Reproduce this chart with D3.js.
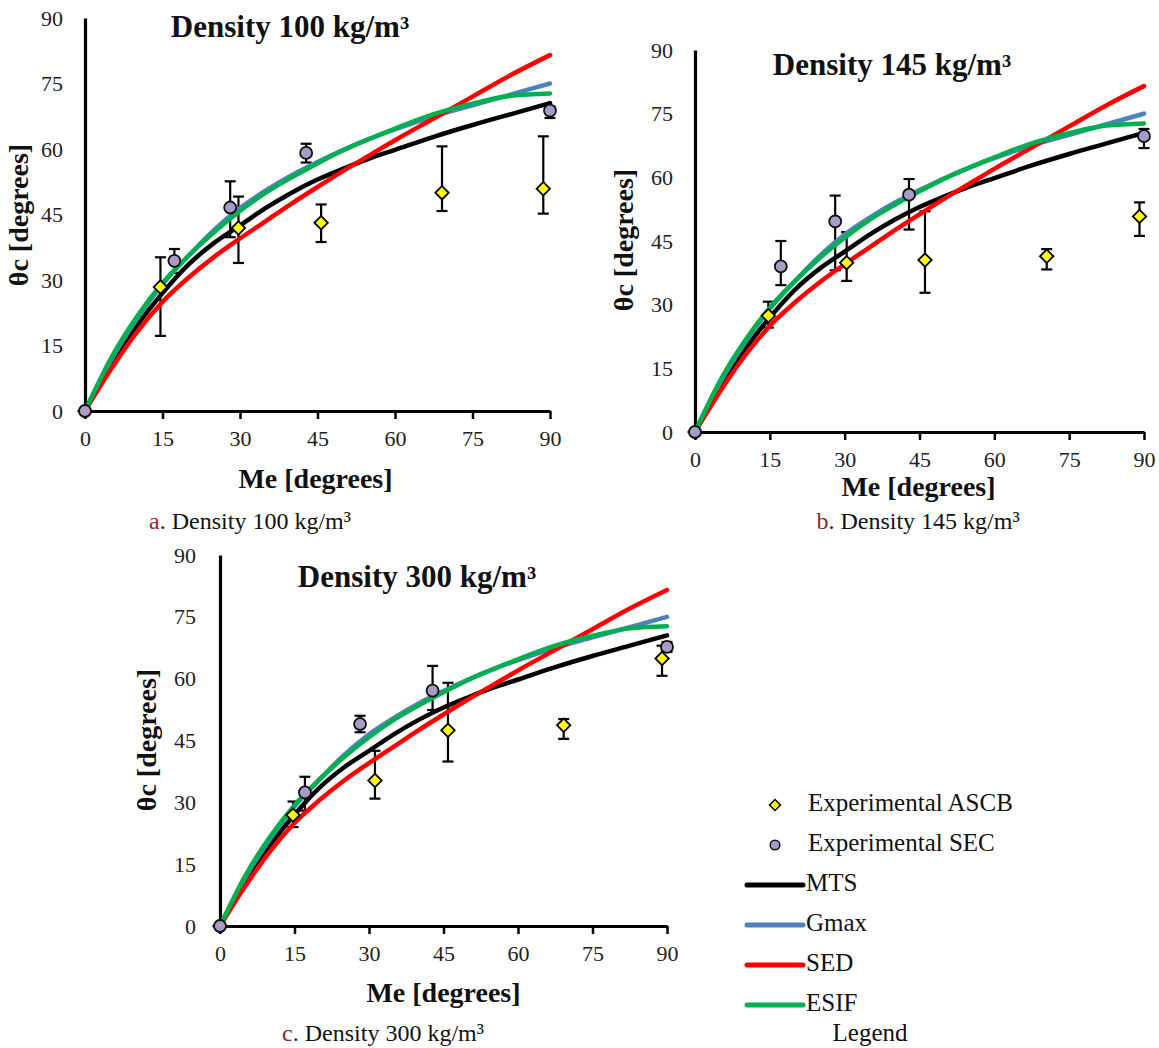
<!DOCTYPE html>
<html>
<head>
<meta charset="utf-8">
<script src="https://cdn.jsdelivr.net/npm/d3@7"></script>
<style>
  body { margin: 0; background: #fff; }
  svg { display: block; }
  text { font-family: "Liberation Serif", "DejaVu Serif", serif; fill: #111; }
</style>
</head>
<body>
<svg id="chart" width="1159" height="1048"></svg>
<script>
// ---- Shared axis ticks ----
const xTicks = [0, 15, 30, 45, 60, 75, 90];
const yTicks = [0, 15, 30, 45, 60, 75, 90];

// ---- Model predictions (θc vs Me), same for every density ----
const modelMe = [0, 5, 10, 15, 20, 25, 30, 35, 40, 45, 50, 55, 60, 67.5, 75, 82.5, 90];
const mtsTheta  = [0, 10.5, 19.5, 27.0, 33.5, 38.5, 42.5, 46.5, 50.0, 53.0, 55.5, 57.8, 59.8, 62.8, 65.5, 68.0, 70.5];
const gmaxTheta = [0, 11.5, 21.0, 29.0, 35.5, 41.5, 46.5, 50.5, 54.0, 57.0, 59.8, 62.3, 64.5, 67.5, 70.0, 72.5, 75.0];
const sedTheta  = [0, 9.5, 18.0, 25.0, 30.5, 35.3, 39.5, 43.5, 47.5, 51.3, 55.0, 58.5, 62.0, 67.0, 72.0, 77.0, 81.5];
const esifTheta = [0, 12.0, 21.5, 29.3, 35.5, 41.0, 45.8, 50.0, 53.5, 56.7, 59.7, 62.3, 64.7, 68.0, 70.4, 72.2, 72.7];

// ---- Experimental ASCB (diamonds) ----
const ascbMe100    = [0, 14.6, 29.7, 45.7, 69.1, 88.7];
const ascbTheta100 = [0, 28.4, 41.9, 43.1, 50.0, 50.9];
const ascbLow100   = [0, 17.2, 33.9, 38.7, 45.8, 45.2];
const ascbHigh100  = [0, 35.2, 49.1, 47.3, 60.6, 62.9];

const ascbMe145    = [0, 14.7, 30.4, 46.1, 70.5, 89.1];
const ascbTheta145 = [0, 27.4, 39.9, 40.5, 41.4, 50.8];
const ascbLow145   = [0, 24.6, 35.6, 32.8, 38.3, 46.2];
const ascbHigh145  = [0, 30.7, 47.1, 52.0, 43.1, 54.1];

const ascbMe300    = [0, 14.7, 31.2, 45.9, 69.2, 89.0];
const ascbTheta300 = [0, 26.9, 35.3, 47.5, 48.7, 64.9];
const ascbLow300   = [0, 24.0, 30.9, 39.9, 45.4, 60.7];
const ascbHigh300  = [0, 30.2, 42.5, 59.0, 50.2, 68.0];

// ---- Experimental SEC (circles) ----
const secMe100    = [0, 17.3, 28.1, 42.8, 90.0];
const secTheta100 = [0, 34.4, 46.6, 59.1, 68.8];
const secLow100   = [0, 31.6, 39.8, 56.9, 67.1];
const secHigh100  = [0, 37.1, 52.6, 61.2, 69.7];

const secMe145    = [0, 17.2, 28.1, 42.9, 90.0];
const secTheta145 = [0, 39.0, 49.6, 55.9, 69.7];
const secLow145   = [0, 34.6, 38.1, 47.7, 66.9];
const secHigh145  = [0, 45.0, 55.7, 59.6, 71.4];

const secMe300    = [0, 17.1, 28.2, 42.8, 90.0];
const secTheta300 = [0, 32.4, 49.0, 57.1, 67.7];
const secLow300   = [0, 28.0, 47.0, 52.4, 66.5];
const secHigh300  = [0, 36.2, 51.0, 63.1, 68.9];

// ---- Series labels and colours ----
const modelNames  = ["MTS", "Gmax", "SED", "ESIF"];
const modelColors = ["#000000", "#4f81bd", "#ff0000", "#00b050"];
const modelSeries = [mtsTheta, gmaxTheta, sedTheta, esifTheta];
const titles   = ["Density 100 kg/m³", "Density 145 kg/m³", "Density 300 kg/m³"];
const captionLetters = ["a", "b", "c"];

const SERIF = '"Liberation Serif", "DejaVu Serif", serif';
const svg = d3.select("#chart");

const zip = (xs, ys, lo, hi) => xs.map((x, i) => ({ x, y: ys[i], lo: lo ? lo[i] : null, hi: hi ? hi[i] : null }));

function drawPanel(opt) {
  const x = d3.scaleLinear().domain([0, 90]).range([opt.left, opt.right]);
  const y = d3.scaleLinear().domain([0, 90]).range([opt.bottom, opt.top]);
  const g = svg.append("g");

  // x axis
  const xa = g.append("g")
    .attr("transform", `translate(0,${opt.bottom})`)
    .call(d3.axisBottom(x).tickValues(xTicks).tickSize(8).tickSizeOuter(0).tickPadding(opt.xPad));
  xa.select(".domain").attr("stroke", "#000").attr("stroke-width", 3.2);
  xa.selectAll(".tick line").attr("stroke", "#000").attr("stroke-width", 2.5);
  xa.selectAll(".tick text").style("font-family", SERIF).style("font-size", "22px").style("fill", "#222");

  // y axis
  const ya = g.append("g")
    .attr("transform", `translate(${opt.left},0)`)
    .call(d3.axisLeft(y).tickValues(yTicks).tickSize(0).tickPadding(opt.yPad));
  ya.select(".domain").attr("stroke", "#000").attr("stroke-width", 3.2);
  ya.selectAll(".tick text").style("font-family", SERIF).style("font-size", "22px").style("fill", "#222");

  // error bars
  const bars = zip(opt.ascb[0], opt.ascb[1], opt.ascb[2], opt.ascb[3])
    .concat(zip(opt.sec[0], opt.sec[1], opt.sec[2], opt.sec[3]))
    .filter(d => d.hi !== d.lo);
  const eb = g.append("g").attr("stroke", "#000").attr("stroke-width", 2.2);
  bars.forEach(d => {
    eb.append("line").attr("x1", x(d.x)).attr("x2", x(d.x)).attr("y1", y(d.lo)).attr("y2", y(d.hi));
    eb.append("line").attr("x1", x(d.x) - 5.5).attr("x2", x(d.x) + 5.5).attr("y1", y(d.lo)).attr("y2", y(d.lo));
    eb.append("line").attr("x1", x(d.x) - 5.5).attr("x2", x(d.x) + 5.5).attr("y1", y(d.hi)).attr("y2", y(d.hi));
  });

  // model curves
  const line = d3.line().x(d => x(d.x)).y(d => y(d.y)).curve(d3.curveMonotoneX);
  modelSeries.forEach((s, i) => {
    g.append("path")
      .datum(zip(modelMe, s))
      .attr("d", line)
      .attr("fill", "none")
      .attr("stroke", modelColors[i])
      .attr("stroke-width", 4.5)
      .attr("stroke-linecap", "round")
      .attr("stroke-linejoin", "round");
  });

  // ASCB diamonds
  g.append("g").selectAll("path")
    .data(zip(opt.ascb[0], opt.ascb[1]))
    .join("path")
    .attr("transform", d => `translate(${x(d.x)},${y(d.y)}) rotate(45)`)
    .attr("d", d3.symbol(d3.symbolSquare, 90))
    .attr("fill", "#ffff00")
    .attr("stroke", "#000")
    .attr("stroke-width", 1.8);

  // SEC circles
  g.append("g").selectAll("circle")
    .data(zip(opt.sec[0], opt.sec[1]))
    .join("circle")
    .attr("cx", d => x(d.x))
    .attr("cy", d => y(d.y))
    .attr("r", 6)
    .attr("fill", "#a89bc6")
    .attr("stroke", "#111")
    .attr("stroke-width", 1.8);

  // titles
  g.append("text")
    .attr("x", opt.titleX).attr("y", opt.titleY)
    .attr("text-anchor", "middle").attr("dominant-baseline", "middle")
    .style("font-size", "31px").style("font-weight", "bold")
    .text(opt.title);

  g.append("text")
    .attr("x", (opt.left + opt.right) / 2 + opt.xLabelShift).attr("y", opt.xLabelY)
    .attr("text-anchor", "middle").attr("dominant-baseline", "middle")
    .style("font-size", "28px").style("font-weight", "bold")
    .text("Me [degrees]");

  g.append("text")
    .attr("transform", `translate(${opt.yLabelX},${opt.yLabelY}) rotate(-90)`)
    .attr("text-anchor", "middle").attr("dominant-baseline", "middle")
    .style("font-size", "28px").style("font-weight", "bold")
    .text("θc [degrees]");

  // caption
  const cap = g.append("text")
    .attr("x", opt.capX).attr("y", opt.capY)
    .attr("text-anchor", "middle").attr("dominant-baseline", "middle")
    .style("font-size", "24px");
  cap.append("tspan").style("fill", "#8b2b2b").text(opt.letter);
  cap.append("tspan").style("fill", "#111").text(". " + opt.title);
}

drawPanel({
  left: 85, right: 550, top: 18, bottom: 411, xPad: 11, yPad: 22,
  ascb: [ascbMe100, ascbTheta100, ascbLow100, ascbHigh100],
  sec: [secMe100, secTheta100, secLow100, secHigh100],
  title: titles[0], titleX: 290, titleY: 30,
  xLabelY: 482, xLabelShift: -2, yLabelX: 22, yLabelY: 215,
  letter: captionLetters[0], capX: 250, capY: 523
});

drawPanel({
  left: 695, right: 1144, top: 50, bottom: 432, xPad: 11, yPad: 22,
  ascb: [ascbMe145, ascbTheta145, ascbLow145, ascbHigh145],
  sec: [secMe145, secTheta145, secLow145, secHigh145],
  title: titles[1], titleX: 892, titleY: 68,
  xLabelY: 490, xLabelShift: -1, yLabelX: 627, yLabelY: 240,
  letter: captionLetters[1], capX: 918, capY: 523
});

drawPanel({
  left: 220, right: 667, top: 555, bottom: 926, xPad: 11, yPad: 24,
  ascb: [ascbMe300, ascbTheta300, ascbLow300, ascbHigh300],
  sec: [secMe300, secTheta300, secLow300, secHigh300],
  title: titles[2], titleX: 417, titleY: 580,
  xLabelY: 996, xLabelShift: 0, yLabelX: 150, yLabelY: 740,
  letter: captionLetters[2], capX: 383, capY: 1035
});

// ---- Legend ----
const legend = svg.append("g");
const legendY = d3.scalePoint().domain(["ASCB", "SEC"].concat(modelNames)).range([805, 1005]);

legend.append("path")
  .attr("transform", `translate(775,${legendY("ASCB")}) rotate(45)`)
  .attr("d", d3.symbol(d3.symbolSquare, 60))
  .attr("fill", "#ffff00").attr("stroke", "#000").attr("stroke-width", 1.5);
legend.append("text").attr("x", 808).attr("y", legendY("ASCB"))
  .attr("dominant-baseline", "middle").style("font-size", "25px").text("Experimental ASCB");

legend.append("circle").attr("cx", 775).attr("cy", legendY("SEC")).attr("r", 4.8)
  .attr("fill", "#a89bc6").attr("stroke", "#111").attr("stroke-width", 1.5);
legend.append("text").attr("x", 808).attr("y", legendY("SEC"))
  .attr("dominant-baseline", "middle").style("font-size", "25px").text("Experimental SEC");

modelNames.forEach((n, i) => {
  legend.append("line")
    .attr("x1", 747).attr("x2", 803)
    .attr("y1", legendY(n)).attr("y2", legendY(n))
    .attr("stroke", modelColors[i]).attr("stroke-width", 5).attr("stroke-linecap", "round");
  legend.append("text").attr("x", 806).attr("y", legendY(n))
    .attr("dominant-baseline", "middle").style("font-size", "25px").text(n);
});

legend.append("text").attr("x", 870).attr("y", 1035)
  .attr("text-anchor", "middle").attr("dominant-baseline", "middle")
  .style("font-size", "25px").text("Legend");
</script>
</body>
</html>
